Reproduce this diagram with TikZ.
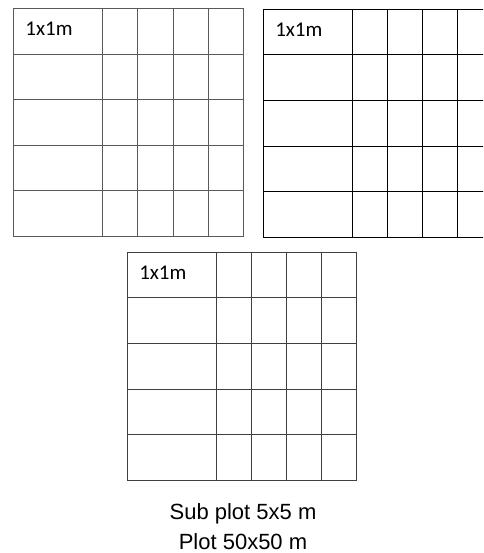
\documentclass[tikz,border=0pt]{standalone}
\usepackage{fontspec}
\setmainfont{Liberation Sans}
\newfontfamily\cellfont{Carlito}
\begin{document}
\begin{tikzpicture}[x=1pt, y=-1pt, line width=0.9pt,
  gridline/.style={draw=#1, line width=0.9pt},
  celllabel/.style={anchor=base west, inner sep=0pt, font=\cellfont\fontsize{21}{25}\selectfont},
  caption/.style={anchor=base, inner sep=0pt, font=\fontsize{22}{26}\selectfont}]
  \useasboundingbox (0,0) rectangle (483,553);
  \clip (0,0) rectangle (483,553);
  % three sub plots, 1x1m cell in the corner
  \foreach \gx/\gy/\gc/\gn in {13.5/8.5/black!65/one, 263.3/9.3/black/two, 127.3/252.3/black!75/three} {
    \draw[gridline=\gc] (\gx,\gy) rectangle ++(229.5,228);
    \foreach \cx in {89,124,159.5,194.5}
      \draw[gridline=\gc] (\gx+\cx,\gy) -- ++(0,228);
    \foreach \ry in {45.6,91.2,136.8,182.4}
      \draw[gridline=\gc] (\gx,\gy+\ry) -- ++(229.5,0);
    \node[celllabel] (cell\gn) at (\gx+11.5,\gy+27.5) {1x1m};
  }
  % captions
  \node[caption] (subplot) at (243,519.3) {Sub plot 5x5 m};
  \node[caption] (plot) at (243,549.3) {Plot 50x50 m};
\end{tikzpicture}
\end{document}
